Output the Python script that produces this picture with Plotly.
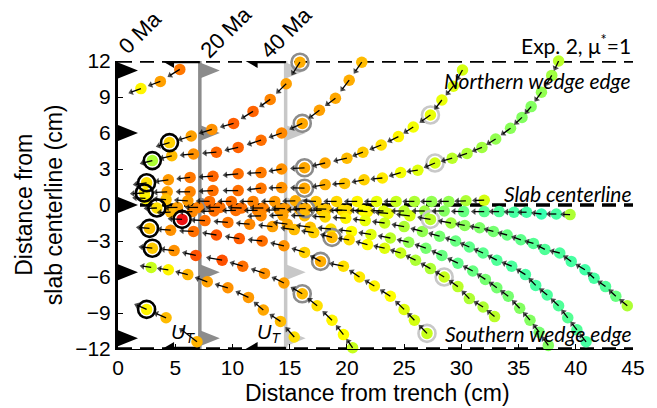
import plotly.graph_objects as go

# ---------------------------------------------------------------------------
# Particle paths in the wedge: position (cm) and colour value along each path.
# marks = index of the point reached at [0 Ma, 20 Ma, 40 Ma] (None = not on path)
# ---------------------------------------------------------------------------
t1_x = [2.0, 3.7, 5.4]
t1_y = [9.7, 10.3, 11.3]
t1_c = [0.64, 0.42, 0.32]
t1_marks = [None, None, None]

t2_x = [4.5, 6.4, 8.2, 10.1, 11.8, 13.3, 14.7, 15.9]
t2_y = [5.2, 5.75, 6.3, 6.8, 7.8, 8.8, 10.1, 11.9]
t2_c = [0.56, 0.42, 0.38, 0.25, 0.27, 0.35, 0.42, 0.46]
t2_marks = [0, 7, None]

t3_x = [3.0, 4.7, 6.6, 8.6, 10.5, 12.5, 14.3, 16.1, 17.6, 19.0, 20.2, 21.3]
t3_y = [3.7, 4.1, 4.25, 4.4, 4.8, 5.4, 6.0, 6.8, 7.9, 8.9, 10.4, 11.9]
t3_c = [0.8, 0.5, 0.38, 0.28, 0.26, 0.3, 0.36, 0.44, 0.42, 0.44, 0.46, 0.5]
t3_marks = [0, 7, None]

t4_x = [2.5, 4.4, 6.3, 8.3, 10.5, 12.5, 14.3, 16.3, 18.1, 20.0, 21.4, 23.0,
        24.5, 25.8, 27.3, 28.3, 29.3, 30.1]
t4_y = [1.85, 2.1, 2.3, 2.4, 2.6, 2.7, 3.0, 3.1, 3.5, 3.9, 4.4, 5.0,
        5.7, 6.5, 7.5, 8.75, 9.9, 11.25]
t4_c = [0.6, 0.4, 0.32, 0.28, 0.3, 0.33, 0.38, 0.44, 0.44, 0.5, 0.54, 0.6,
        0.64, 0.68, 0.7, 0.7, 0.72, 0.74]
t4_marks = [0, 7, 14]

t5_x = [2.3, 4.3, 6.3, 8.3, 10.5, 12.5, 14.3, 16.3, 18.1, 19.8, 21.5, 23.1, 24.7,
        26.2, 27.7, 29.2, 30.5, 31.8, 33.0, 34.3, 35.3, 36.1, 37.0, 37.9, 38.5]
t5_y = [1.0, 1.1, 1.1, 1.2, 1.2, 1.4, 1.45, 1.4, 1.7, 1.8, 2.1, 2.25, 2.7,
        2.9, 3.5, 3.9, 4.3, 4.8, 5.5, 6.4, 7.3, 8.2, 9.4, 10.8, 12.0]
t5_c = [0.62, 0.42, 0.35, 0.3, 0.3, 0.32, 0.38, 0.44, 0.46, 0.52, 0.56, 0.62, 0.68,
        0.72, 0.74, 0.78, 0.8, 0.82, 0.84, 0.85, 0.86, 0.86, 0.84, 0.82, 0.78]
t5_marks = [0, 7, 14]

t6_x = [2.4, 4.2, 6.1, 8.0, 9.9, 11.8, 13.7, 15.5, 17.3, 19.1, 20.9, 22.6,
        24.3, 25.9, 27.4, 28.9, 30.4, 32.0]
t6_y = [0.55, 0.45, 0.35, 0.3, 0.3, 0.3, 0.3, 0.35, 0.3, 0.3, 0.3, 0.3,
        0.3, 0.3, 0.3, 0.3, 0.35, 0.4]
t6_c = [0.64, 0.52, 0.4, 0.3, 0.3, 0.34, 0.4, 0.46, 0.52, 0.58, 0.64, 0.7,
        0.76, 0.8, 0.84, 0.84, 0.8, 0.74]
t6_marks = [None, None, None]

t7_x = [3.4, 5.2, 7.0, 8.9, 10.8, 12.7, 14.6, 16.4, 18.2, 20.0, 21.8, 23.6, 25.5,
        27.3, 29.1, 30.3, 31.6, 32.8, 34.0, 35.2, 36.3, 37.3, 38.6, 39.6, 40.8,
        41.6, 42.6, 43.5, 44.5]
t7_y = [-0.25, -0.2, -0.2, -0.2, -0.25, -0.25, -0.3, -0.3, -0.35, -0.45, -0.55,
        -0.7, -0.9, -1.2, -1.5, -1.7, -1.9, -2.2, -2.5, -2.9, -3.2, -3.7, -4.0,
        -4.7, -5.4, -6.1, -6.8, -7.6, -8.4]
t7_c = [0.6, 0.42, 0.34, 0.3, 0.3, 0.34, 0.4, 0.46, 0.52, 0.58, 0.64, 0.7, 0.74,
        0.78, 0.82, 0.85, 0.87, 0.88, 0.9, 0.92, 0.94, 0.95, 0.96, 0.97, 0.98,
        0.97, 0.95, 0.9, 0.8]
t7_marks = [0, 7, 13]

t8_x = [4.6, 6.5, 8.4, 10.3, 12.2, 14.1, 15.9, 17.8, 19.6, 21.4, 23.2, 25.0,
        26.8, 28.5, 30.2, 32.0, 33.3, 34.6, 35.7, 37.0, 38.3, 39.5]
t8_y = [-0.6, -0.55, -0.5, -0.45, -0.45, -0.4, -0.4, -0.45, -0.45, -0.45, -0.5,
        -0.5, -0.5, -0.5, -0.55, -0.55, -0.55, -0.6, -0.6, -0.75, -0.75, -0.8]
t8_c = [0.48, 0.36, 0.3, 0.3, 0.34, 0.4, 0.46, 0.54, 0.6, 0.66, 0.72, 0.78,
        0.82, 0.86, 0.9, 0.93, 0.95, 0.97, 0.98, 1.0, 0.97, 0.8]
t8_marks = [None, None, None]

t9_x = [12.5, 14.4, 16.3, 18.1, 19.9, 21.6, 23.3, 25.0, 26.6, 28.1, 29.5, 30.7,
        31.9, 33.1, 34.4, 35.6, 36.5, 37.5, 38.5, 39.3, 40.1, 40.9]
t9_y = [-0.9, -0.85, -0.9, -1.0, -1.1, -1.3, -1.5, -1.8, -2.2, -2.6, -3.0, -3.5,
        -4.0, -4.6, -5.1, -5.8, -6.7, -7.5, -8.4, -9.4, -10.4, -11.4]
t9_c = [0.36, 0.42, 0.5, 0.58, 0.64, 0.7, 0.76, 0.8, 0.84, 0.88, 0.9, 0.92,
        0.93, 0.95, 0.96, 0.97, 0.97, 0.96, 0.95, 0.94, 0.95, 0.97]
t9_marks = [None, None, None]

t10_x = [14.8, 16.8, 18.6, 20.4, 22.1, 23.8, 25.4, 26.9, 28.3, 29.7, 31.0, 32.1,
         33.1, 34.1, 35.1, 36.0, 36.8, 37.6]
t10_y = [-1.6, -1.85, -2.0, -2.2, -2.45, -2.75, -3.1, -3.6, -4.2, -4.85, -5.5,
         -6.2, -6.9, -7.6, -8.6, -9.6, -10.6, -11.7]
t10_c = [0.44, 0.52, 0.6, 0.66, 0.72, 0.78, 0.84, 0.88, 0.9, 0.92, 0.9, 0.88,
         0.88, 0.88, 0.86, 0.86, 0.88, 0.86]
t10_marks = [None, None, None]

t11_x = [5.6, 7.6, 9.6, 11.5, 13.5, 15.4, 17.1, 18.7, 20.2, 21.8, 23.3, 24.7,
         26.0, 27.3, 28.5, 29.7, 30.7, 31.9, 32.9]
t11_y = [-1.2, -1.3, -1.45, -1.6, -1.8, -2.05, -2.3, -2.7, -2.9, -3.3, -3.6,
         -4.0, -4.6, -5.3, -6.0, -6.8, -7.8, -8.5, -9.3]
t11_c = [0.0, 0.3, 0.32, 0.36, 0.42, 0.5, 0.56, 0.5, 0.6, 0.66, 0.72, 0.76,
         0.8, 0.8, 0.76, 0.78, 0.8, 0.8, 0.78]
t11_marks = [0, 7, 14]

t12_x = [2.75, 4.6, 6.6, 8.6, 10.6, 12.6, 14.5, 16.3, 17.7, 19.7, 21.1, 22.4,
         23.8, 25.0, 25.9, 27.0]
t12_y = [-1.95, -2.1, -2.2, -2.5, -2.8, -3.0, -3.4, -3.95, -4.7, -5.1, -6.0,
         -6.75, -7.6, -8.7, -9.6, -10.7]
t12_c = [0.52, 0.38, 0.3, 0.22, 0.24, 0.3, 0.38, 0.56, 0.46, 0.6, 0.62, 0.64,
         0.66, 0.72, 0.74, 0.76]
t12_marks = [0, 8, 15]

t13_x = [3.0, 4.9, 6.8, 9.1, 10.9, 12.8, 14.5, 16.1, 17.4, 18.7, 19.7, 20.5]
t13_y = [-3.6, -3.8, -4.2, -4.6, -5.1, -5.7, -6.5, -7.4, -8.4, -9.6, -10.8, -11.9]
t13_c = [0.54, 0.38, 0.2, 0.2, 0.3, 0.38, 0.42, 0.5, 0.6, 0.64, 0.66, 0.76]
t13_marks = [0, 7, None]

t14_x = [2.9, 4.4, 6.1, 7.8, 9.6, 11.4, 12.7, 14.2, 15.4]
t14_y = [-5.2, -5.4, -5.8, -6.4, -6.9, -7.7, -8.75, -9.7, -11.0]
t14_c = [0.76, 0.64, 0.48, 0.42, 0.38, 0.4, 0.44, 0.5, 0.6]
t14_marks = [None, None, None]

t15_x = [2.5, 4.2, 6.9]
t15_y = [-8.7, -9.4, -11.4]
t15_c = [0.64, 0.5, 0.48]
t15_marks = [0, None, None]

paths = [
    (t1_x, t1_y, t1_c, t1_marks), (t2_x, t2_y, t2_c, t2_marks),
    (t3_x, t3_y, t3_c, t3_marks), (t4_x, t4_y, t4_c, t4_marks),
    (t5_x, t5_y, t5_c, t5_marks), (t6_x, t6_y, t6_c, t6_marks),
    (t7_x, t7_y, t7_c, t7_marks), (t8_x, t8_y, t8_c, t8_marks),
    (t9_x, t9_y, t9_c, t9_marks), (t10_x, t10_y, t10_c, t10_marks),
    (t11_x, t11_y, t11_c, t11_marks), (t12_x, t12_y, t12_c, t12_marks),
    (t13_x, t13_y, t13_c, t13_marks), (t14_x, t14_y, t14_c, t14_marks),
    (t15_x, t15_y, t15_c, t15_marks),
]

# Trench position through time
trench_age = ["0 Ma", "20 Ma", "40 Ma"]
trench_x = [0.0, 7.15, 14.65]
trench_color = ["#000000", "#8c8c8c", "#c8c8c8"]
age_label_x = [1.9, 9.4, 14.7]
flag_y = [11.2, 6.0, 0.0, -5.6, -11.1]
ut_tip_x = [3.85, 11.15]          # heads of the trench-retreat arrows
ut_label_x = [5.7, 13.2]
ut_label_y = -10.7

# Wedge edges and centre line
edge_y = [12, 0, -12]
edge_name = ["Northern wedge edge", "Slab centerline", "Southern wedge edge"]
edge_label_y = [10.4, 0.0, -10.7]

X_RANGE = [0, 45]
Y_RANGE = [-12, 12]
W, H = 657, 408
M = dict(l=118, r=16, t=61, b=59)
px_per_x = (W - M["l"] - M["r"]) / (X_RANGE[1] - X_RANGE[0])

colorscale = [
    [0.0, "#ee1111"], [0.15, "#ff4400"], [0.28, "#ff6600"], [0.4, "#ff9900"],
    [0.5, "#ffbb00"], [0.6, "#ffe000"], [0.66, "#ffff00"], [0.74, "#d4ff10"],
    [0.82, "#a0ff40"], [0.9, "#66ff80"], [1.0, "#38ffb0"],
]

fig = go.Figure()

# dashed wedge edges / slab centre line
for ey in edge_y:
    fig.add_trace(go.Scatter(
        x=X_RANGE, y=[ey, ey], mode="lines", hoverinfo="skip",
        line=dict(color="black", width=3.5, dash="14px,8px"), cliponaxis=False))

# particle positions
all_x, all_y, all_c = [], [], []
for px_, py_, pc_, _ in paths:
    all_x += px_
    all_y += py_
    all_c += pc_
fig.add_trace(go.Scatter(
    x=all_x, y=all_y, mode="markers", cliponaxis=False,
    marker=dict(size=11.5, color=all_c, colorscale=colorscale, cmin=0, cmax=1,
                line=dict(width=0))))

# rings at the 0, 20 and 40 Ma positions
for k in range(3):
    rx, ry = [], []
    for px_, py_, _, marks in paths:
        i = marks[k]
        if i is not None:
            rx.append(px_[i])
            ry.append(py_[i])
    fig.add_trace(go.Scatter(
        x=rx, y=ry, mode="markers", cliponaxis=False,
        marker=dict(symbol="circle-open", size=17, color=trench_color[k],
                    line=dict(width=2.6, color=trench_color[k]))))

# velocity arrows: each particle points toward its next (younger) position
ARROW_FRAC = 0.5
ax_, ay_, asz = [], [], []
for px_, py_, _, _ in paths:
    n = len(px_)
    for i in range(n):
        if i > 0:
            dx, dy = px_[i - 1] - px_[i], py_[i - 1] - py_[i]
        else:
            dx, dy = px_[0] - px_[1], py_[0] - py_[1]
        ax_ += [px_[i], px_[i] + ARROW_FRAC * dx, None]
        ay_ += [py_[i], py_[i] + ARROW_FRAC * dy, None]
        asz += [0, 6, 0]
fig.add_trace(go.Scatter(
    x=ax_, y=ay_, mode="lines+markers", cliponaxis=False, connectgaps=False,
    line=dict(color="black", width=1.3),
    marker=dict(symbol="triangle-up", size=asz, color="black",
                angleref="previous", line=dict(width=0))))

shapes = []
# trench lines (20 and 40 Ma; 0 Ma is the y axis) and their flags
for k in range(3):
    if k > 0:
        shapes.append(dict(type="line", xref="x", yref="y", layer="below",
                           x0=trench_x[k], x1=trench_x[k], y0=Y_RANGE[0], y1=Y_RANGE[1],
                           line=dict(color=trench_color[k], width=3.5)))
    for fy in flag_y:
        shapes.append(dict(type="path", xref="x", yref="y", layer="below",
                           xsizemode="pixel", ysizemode="pixel",
                           xanchor=trench_x[k], yanchor=fy,
                           path="M0,-8 L20,0 L0,8 Z",
                           fillcolor=trench_color[k], line=dict(width=0)))
# trench retreat arrows (U_T) along the wedge edges
for j, tip in enumerate(ut_tip_x):
    for ey in (Y_RANGE[1], Y_RANGE[0]):
        shapes.append(dict(type="line", xref="x", yref="y", layer="below",
                           x0=trench_x[j + 1], x1=tip + 10 / px_per_x, y0=ey, y1=ey,
                           line=dict(color="black", width=4.5)))
        shapes.append(dict(type="path", xref="x", yref="y", layer="below",
                           xsizemode="pixel", ysizemode="pixel",
                           xanchor=tip, yanchor=ey,
                           path="M0,0 L12,-7 L12,7 Z",
                           fillcolor="black", line=dict(width=0)))

annotations = []
for k in range(3):
    annotations.append(dict(
        text=trench_age[k], x=age_label_x[k], y=1.1, xref="x", yref="paper",
        showarrow=False, textangle=-45, xanchor="center", yanchor="middle",
        font=dict(family="Liberation Sans", size=22, color="black")))
for lx in ut_label_x:
    annotations.append(dict(
        text="<i>U</i><sub><i>T</i></sub>", x=lx, y=ut_label_y, xref="x", yref="y",
        showarrow=False, xanchor="center", yanchor="middle",
        font=dict(family="Liberation Sans", size=20, color="black")))
label_font = dict(family="Lato", size=21, color="black")
annotations.append(dict(
    text="<i>" + edge_name[0] + "</i>", x=45, y=edge_label_y[0], xref="x", yref="y",
    showarrow=False, xanchor="right", yanchor="middle", font=label_font))
annotations.append(dict(
    text="<i>" + edge_name[1] + "</i>", x=45, y=edge_label_y[1], xref="x", yref="y",
    showarrow=False, xanchor="right", yanchor="bottom", xshift=1, yshift=-3,
    font=label_font))
annotations.append(dict(
    text="<i>" + edge_name[2] + "</i>", x=45, y=edge_label_y[2], xref="x", yref="y",
    showarrow=False, xanchor="right", yanchor="middle", font=label_font))
annotations.append(dict(
    text="Exp. 2, \u03bc<sup>*</sup>=1", x=1.0, y=1.058, xref="paper", yref="paper",
    showarrow=False, xanchor="right", yanchor="middle", font=label_font))
# axis titles
annotations.append(dict(
    text="Distance from trench (cm)", x=0.504, y=-0.153, xref="paper", yref="paper",
    showarrow=False, xanchor="center", yanchor="middle",
    font=dict(family="Liberation Sans", size=23, color="black")))
annotations.append(dict(
    text="Distance from<br>slab centerline (cm)", x=-0.153, y=0.5,
    xref="paper", yref="paper", textangle=-90,
    showarrow=False, xanchor="center", yanchor="middle",
    font=dict(family="Liberation Sans", size=23, color="black")))

fig.update_layout(
    width=W, height=H, margin=M, showlegend=False,
    plot_bgcolor="white", paper_bgcolor="white",
    shapes=shapes, annotations=annotations,
    xaxis=dict(range=X_RANGE, tickvals=list(range(0, 50, 5)), ticks="inside",
               ticklen=5, tickwidth=1, tickcolor="black", showline=True,
               linecolor="black", linewidth=1, showgrid=False, zeroline=False,
               tickfont=dict(family="Liberation Sans", size=21, color="black")),
    yaxis=dict(range=Y_RANGE, tickvals=list(range(-12, 13, 3)), ticks="inside",
               ticklen=5, tickwidth=1, tickcolor="black", showline=True,
               linecolor="black", linewidth=3, showgrid=False, zeroline=False,
               tickfont=dict(family="Liberation Sans", size=21, color="black")),
)

fig.write_html("out.html")
